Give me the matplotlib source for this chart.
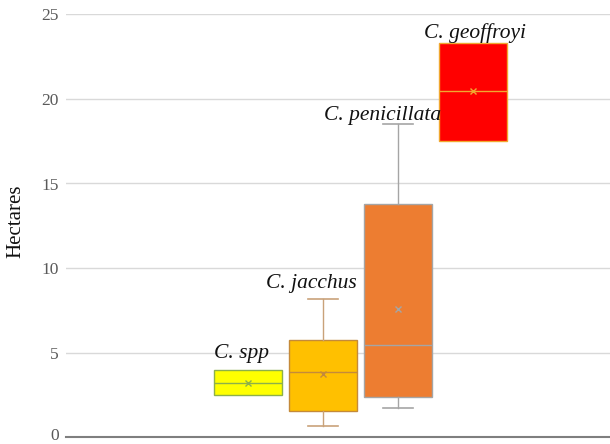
import matplotlib
matplotlib.use("Agg")
import matplotlib.pyplot as plt
import matplotlib.transforms as mtransforms

# home range sizes per species (hectares)
species = ["C. spp", "C. jacchus", "C. penicillata", "C. geoffroyi"]
q1 = [2.5, 1.55, 2.35, 17.5]
median = [3.2, 3.85, 5.45, 20.45]
q3 = [3.95, 5.75, 13.8, 23.3]
whislo = [2.5, 0.65, 1.7, 17.5]
whishi = [3.95, 8.15, 18.5, 23.3]
means = [3.2, 3.75, 7.6, 20.45]

face_colors = ["#FFFF00", "#FFC000", "#ED7D31", "#FF0000"]
edge_colors = ["#8DB04A", "#C48A3A", "#A5A5A5", "#F0A830"]
whisker_colors = ["#8DB04A", "#C9A27A", "#A5A5A5", "#F0A830"]
# species names sit just above each box (x, baseline y)
label_xy = [(0.91, 4.7), (1.85, 8.8), (2.8, 18.75), (4.03, 23.6)]

plt.rcParams["font.family"] = ["Liberation Serif", "DejaVu Serif"]

fig = plt.figure(figsize=(6.1, 4.44), dpi=100)
ax = fig.add_axes([66 / 610, 7 / 444, 544 / 610, 422.5 / 444])

positions = [1, 2, 3, 4]
for i in range(len(species)):
    st = dict(med=median[i], q1=q1[i], q3=q3[i], whislo=whislo[i],
              whishi=whishi[i], mean=means[i], label=species[i])
    has_whiskers = whislo[i] < q1[i] or whishi[i] > q3[i]
    ax.bxp([st], positions=[positions[i]], widths=0.907, patch_artist=True,
           showmeans=True, showfliers=False, showcaps=has_whiskers,
           boxprops=dict(facecolor=face_colors[i], edgecolor=edge_colors[i], linewidth=1),
           medianprops=dict(color=edge_colors[i], linewidth=1),
           whiskerprops=dict(color=whisker_colors[i], linewidth=1),
           capprops=dict(color=whisker_colors[i], linewidth=1.2),
           meanprops=dict(marker="x", markeredgecolor=edge_colors[i],
                          markersize=5, markeredgewidth=1),
           capwidths=0.4, manage_ticks=False)

for name, (lx, ly) in zip(species, label_xy):
    ax.text(lx, ly, name, style="italic", fontsize=15.5,
            ha="center", va="baseline", color="#111111")

ax.set_xlim(-1.427, 5.827)
ax.set_ylim(0, 25)
ax.set_yticks([0, 5, 10, 15, 20, 25])
ax.set_xticks([])
ax.yaxis.grid(True, color="#D9D9D9", linewidth=1)
ax.set_axisbelow(True)
for side in ["top", "right", "left"]:
    ax.spines[side].set_visible(False)
ax.spines["bottom"].set_color("#7F7F7F")
ax.spines["bottom"].set_linewidth(1.5)
ax.tick_params(axis="y", length=0, labelsize=12.5, labelcolor="#595959", pad=5)

# lift the "0" label a touch so it stays inside the canvas
zero_lbl = ax.get_yticklabels()[0]
zero_lbl.set_transform(zero_lbl.get_transform() +
                       mtransforms.ScaledTranslation(0, 2 / 72, fig.dpi_scale_trans))

fig.text(16 / 610, 1 - 221 / 444, "Hectares", rotation=90, fontsize=15,
         ha="center", va="center", color="#111111")

fig.savefig("out.png", dpi=100)
